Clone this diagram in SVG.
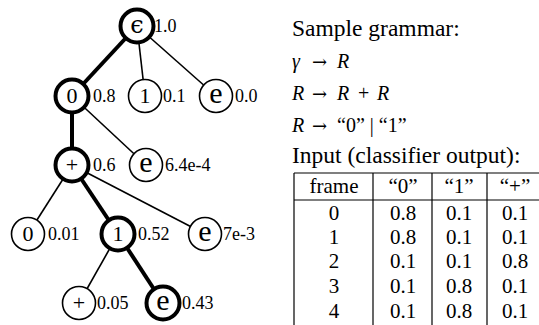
<svg xmlns="http://www.w3.org/2000/svg" width="539" height="325" viewBox="0 0 539 325">
<style>
.edge{stroke:#000;stroke-width:1.6;fill:none}
.edge.bold{stroke-width:4}
.node circle{fill:#fff;stroke:#000;stroke-width:1.6}
.node.bold circle{stroke-width:4}
text{font-family:'Liberation Serif','Times New Roman',Times,'DejaVu Serif',serif;fill:#000}
.sym{font-size:22px;text-anchor:middle}
.sym.e{font-size:30px}
.sym.eps{font-family:'DejaVu Serif','Liberation Serif',serif;font-size:24px}
.lbl{font-size:18px}
.head{font-size:23.5px}
.math{font-size:20px}
.it{font-style:italic}
.arr{font-family:'DejaVu Serif','Liberation Serif',serif;font-size:18px}
.tbl{font-size:21px;text-anchor:middle}
.rule{stroke:#000;stroke-width:1.2}
</style>
<g id="connectors">
<line class="edge bold" x1="137" y1="26" x2="72" y2="96"/>
<line class="edge" x1="137" y1="26" x2="145" y2="96"/>
<line class="edge" x1="137" y1="26" x2="216" y2="96"/>
<line class="edge bold" x1="72" y1="96" x2="72" y2="165"/>
<line class="edge" x1="72" y1="96" x2="146" y2="165"/>
<line class="edge" x1="72" y1="165" x2="28" y2="234"/>
<line class="edge bold" x1="72" y1="165" x2="118" y2="234"/>
<line class="edge" x1="72" y1="165" x2="205" y2="234"/>
<line class="edge" x1="118" y1="234" x2="79" y2="303"/>
<line class="edge bold" x1="118" y1="234" x2="163" y2="303"/>
</g>
<g id="n_root" class="node bold"><circle cx="137" cy="26" r="16.5"/><text class="sym eps" x="137" y="33">ϵ</text><text class="lbl" x="154" y="32">1.0</text></g>
<g id="n_0" class="node bold"><circle cx="72" cy="96" r="16.5"/><text class="sym" x="72" y="103">0</text><text class="lbl" x="93" y="102">0.8</text></g>
<g id="n_1" class="node"><circle cx="145" cy="96" r="16.5"/><text class="sym" x="145" y="103">1</text><text class="lbl" x="163" y="102">0.1</text></g>
<g id="n_e1" class="node"><circle cx="216" cy="96" r="16.5"/><text class="sym e" x="216" y="103">e</text><text class="lbl" x="235" y="102">0.0</text></g>
<g id="n_plus" class="node bold"><circle cx="72" cy="165" r="16.5"/><text class="sym" x="72" y="172">+</text><text class="lbl" x="93" y="171">0.6</text></g>
<g id="n_e2" class="node"><circle cx="146" cy="165" r="16.5"/><text class="sym e" x="146" y="172">e</text><text class="lbl" x="165" y="171">6.4e-4</text></g>
<g id="n_00" class="node"><circle cx="28" cy="234" r="16.5"/><text class="sym" x="28" y="241">0</text><text class="lbl" x="48" y="240">0.01</text></g>
<g id="n_11" class="node bold"><circle cx="118" cy="234" r="16.5"/><text class="sym" x="118" y="241">1</text><text class="lbl" x="138" y="240">0.52</text></g>
<g id="n_e3" class="node"><circle cx="205" cy="234" r="16.5"/><text class="sym e" x="205" y="241">e</text><text class="lbl" x="223" y="240">7e-3</text></g>
<g id="n_p2" class="node"><circle cx="79" cy="303" r="16.5"/><text class="sym" x="79" y="310">+</text><text class="lbl" x="97" y="309">0.05</text></g>
<g id="n_e4" class="node bold"><circle cx="163" cy="303" r="16.5"/><text class="sym e" x="163" y="310">e</text><text class="lbl" x="182" y="309">0.43</text></g>
<g id="grammar">
<text class="head" x="292" y="36">Sample grammar:</text>
<text class="math" y="68"><tspan class="it" x="292">γ</tspan><tspan class="arr" x="312">→</tspan><tspan class="it" x="337">R</tspan></text>
<text class="math" y="100"><tspan class="it" x="292">R</tspan><tspan class="arr" x="312">→</tspan><tspan class="it" x="337">R</tspan><tspan x="358">+</tspan><tspan class="it" x="377">R</tspan></text>
<text class="math" y="132"><tspan class="it" x="292">R</tspan><tspan class="arr" x="312">→</tspan><tspan x="337">“0” | “1”</tspan></text>
<text class="head" x="292" y="163">Input (classifier output):</text>
</g>
<g id="table">
<line class="rule" x1="294" y1="173" x2="539" y2="173"/>
<line class="rule" x1="294" y1="200" x2="539" y2="200"/>
<line class="rule" x1="294" y1="173" x2="294" y2="325"/>
<line class="rule" x1="373" y1="173" x2="373" y2="325"/>
<line class="rule" x1="432" y1="173" x2="432" y2="325"/>
<line class="rule" x1="487" y1="173" x2="487" y2="325"/>
<text class="tbl" x="334" y="193">frame</text><text class="tbl" x="403" y="193">“0”</text><text class="tbl" x="459" y="193">“1”</text><text class="tbl" x="515" y="193">“+”</text>
<text class="tbl" x="334" y="220">0</text><text class="tbl" x="403" y="220">0.8</text><text class="tbl" x="459" y="220">0.1</text><text class="tbl" x="515" y="220">0.1</text>
<text class="tbl" x="334" y="244">1</text><text class="tbl" x="403" y="244">0.8</text><text class="tbl" x="459" y="244">0.1</text><text class="tbl" x="515" y="244">0.1</text>
<text class="tbl" x="334" y="268">2</text><text class="tbl" x="403" y="268">0.1</text><text class="tbl" x="459" y="268">0.1</text><text class="tbl" x="515" y="268">0.8</text>
<text class="tbl" x="334" y="293">3</text><text class="tbl" x="403" y="293">0.1</text><text class="tbl" x="459" y="293">0.8</text><text class="tbl" x="515" y="293">0.1</text>
<text class="tbl" x="334" y="318">4</text><text class="tbl" x="403" y="318">0.1</text><text class="tbl" x="459" y="318">0.8</text><text class="tbl" x="515" y="318">0.1</text>
</g>
</svg>
